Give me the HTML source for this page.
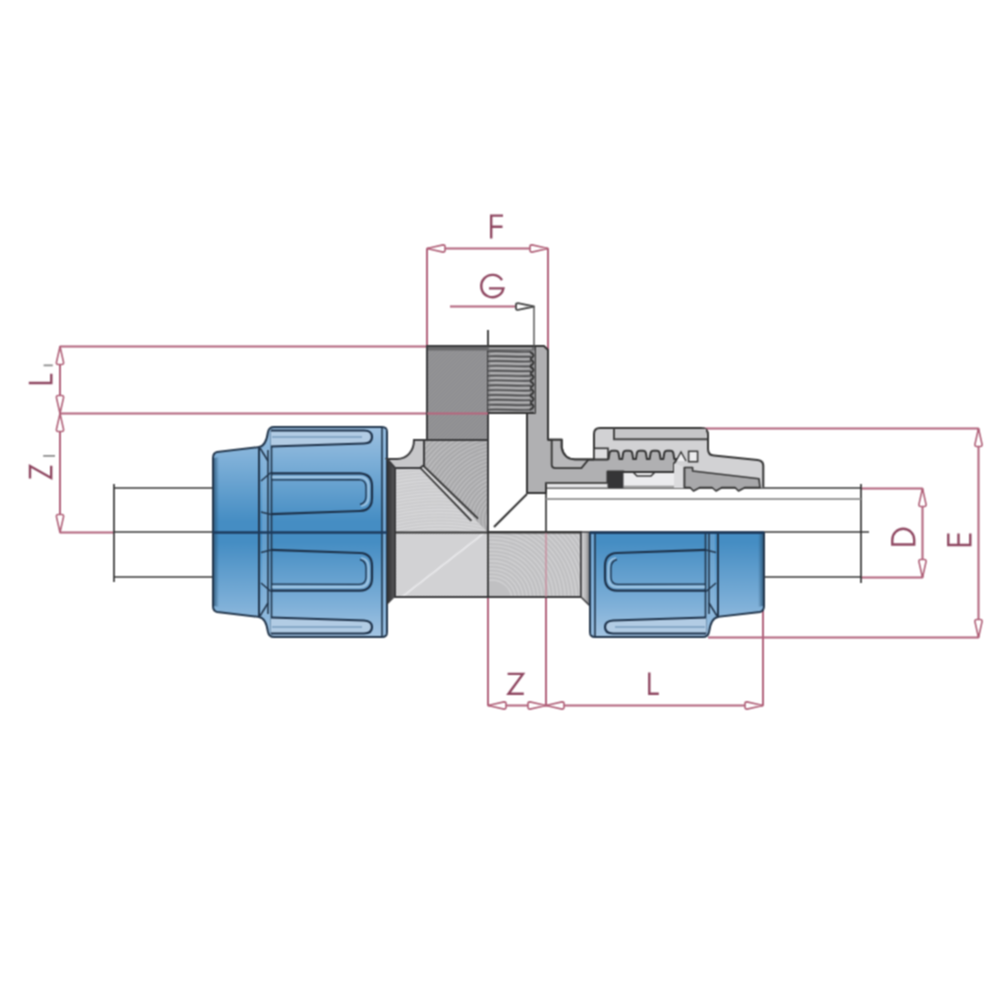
<!DOCTYPE html>
<html><head><meta charset="utf-8">
<style>
html,body{margin:0;padding:0;background:#fff;}
svg{display:block;}
text{font-family:"Liberation Sans",sans-serif;fill:#a83654;}
</style></head><body>
<svg width="1000" height="1000" viewBox="0 0 1000 1000">
<defs>
  <linearGradient id="blueV" gradientUnits="userSpaceOnUse" x1="0" y1="427" x2="0" y2="637">
    <stop offset="0" stop-color="#9dc0e0"/>
    <stop offset="0.15" stop-color="#7fb0d8"/>
    <stop offset="0.45" stop-color="#458dc3"/>
    <stop offset="0.55" stop-color="#458dc3"/>
    <stop offset="0.85" stop-color="#7fb0d8"/>
    <stop offset="1" stop-color="#a3c4e2"/>
  </linearGradient>
  <linearGradient id="capEdge" x1="0" y1="0" x2="1" y2="0">
    <stop offset="0" stop-color="#2c5678" stop-opacity="0.8"/>
    <stop offset="1" stop-color="#2c5678" stop-opacity="0"/>
  </linearGradient>
  <linearGradient id="blueH" gradientUnits="userSpaceOnUse" x1="0" y1="532" x2="0" y2="637">
    <stop offset="0" stop-color="#3f85c2"/>
    <stop offset="0.6" stop-color="#6ea6d4"/>
    <stop offset="1" stop-color="#a6c6e2"/>
  </linearGradient>
  <linearGradient id="ribL" x1="0" y1="0" x2="0" y2="1">
    <stop offset="0" stop-color="#bcd5ea"/>
    <stop offset="1" stop-color="#8fb8dc"/>
  </linearGradient>
  <linearGradient id="bodyG" gradientUnits="userSpaceOnUse" x1="395" y1="597" x2="580" y2="460">
    <stop offset="0" stop-color="#b8b8ba"/>
    <stop offset="0.4" stop-color="#d2d2d4"/>
    <stop offset="0.6" stop-color="#c4c4c6"/>
    <stop offset="1" stop-color="#b0b0b2"/>
  </linearGradient>
  <linearGradient id="darkStrip" x1="0" y1="0" x2="1" y2="0">
    <stop offset="0" stop-color="#2e2e30"/>
    <stop offset="1" stop-color="#5a5a5c"/>
  </linearGradient>
  <linearGradient id="darkStripR" x1="0" y1="0" x2="1" y2="0">
    <stop offset="0" stop-color="#dadadc"/>
    <stop offset="0.6" stop-color="#b0b0b2"/>
    <stop offset="1" stop-color="#6a6a6c"/>
  </linearGradient>
  <pattern id="streak" patternUnits="userSpaceOnUse" width="6" height="4">
    <rect width="6" height="4" fill="none"/>
    <line x1="0" y1="1" x2="6" y2="1" stroke="#ffffff" stroke-opacity="0.25" stroke-width="1"/>
  </pattern>
</defs>
<filter id="soft" x="0" y="0" width="1000" height="1000" filterUnits="userSpaceOnUse" color-interpolation-filters="sRGB"><feConvolveMatrix order="3" kernelMatrix="1 2 1 2 4 2 1 2 1" divisor="16" edgeMode="duplicate"/></filter>
<g filter="url(#soft)">
<rect width="1000" height="1000" fill="#fff"/>

<!-- ============ DIMENSION LINES ============ -->
<g stroke="#b0607a" stroke-width="2" fill="none">
  <path d="M60,346.5 H427 M60,413.5 H488 M60,532.5 H114 M60,346 V532.5"/>
  <path d="M427,248.5 V346 M548,248.5 V350 M427,248.5 H548"/>
  <path d="M450,306.5 H516"/>
  <path d="M703,428.5 H978.5 M708,637.5 H978.5 M978.5,428.5 V637.5"/>
  <path d="M861,488.5 H922.5 M861,577.5 H922.5 M922.5,488.5 V577.5"/>
  <path d="M488,705.5 H763 M488,597 V705.5 M546,597 V705.5 M763,609 V705.5"/>
</g>
<g stroke="#b06078" stroke-width="1.6" fill="#fff" stroke-linejoin="round">
  <path id="aUp" d="M0,0 L-3.6,16 Q-3.6,18 -2,18 L2,18 Q3.6,18 3.6,16 Z" transform="translate(60,346.5)"/>
  <path d="M0,0 L-3.6,16 Q-3.6,18 -2,18 L2,18 Q3.6,18 3.6,16 Z" transform="translate(60,413.5) rotate(180)"/>
  <path d="M0,0 L-3.6,16 Q-3.6,18 -2,18 L2,18 Q3.6,18 3.6,16 Z" transform="translate(60,413.5)"/>
  <path d="M0,0 L-3.6,16 Q-3.6,18 -2,18 L2,18 Q3.6,18 3.6,16 Z" transform="translate(60,532.5) rotate(180)"/>
  <path d="M0,0 L-3.6,16 Q-3.6,18 -2,18 L2,18 Q3.6,18 3.6,16 Z" transform="translate(427,248.5) rotate(-90)"/>
  <path d="M0,0 L-3.6,16 Q-3.6,18 -2,18 L2,18 Q3.6,18 3.6,16 Z" transform="translate(548,248.5) rotate(90)"/>
  <path d="M0,0 L-3.6,16 Q-3.6,18 -2,18 L2,18 Q3.6,18 3.6,16 Z" transform="translate(978.5,428.5)"/>
  <path d="M0,0 L-3.6,16 Q-3.6,18 -2,18 L2,18 Q3.6,18 3.6,16 Z" transform="translate(978.5,637.5) rotate(180)"/>
  <path d="M0,0 L-3.6,16 Q-3.6,18 -2,18 L2,18 Q3.6,18 3.6,16 Z" transform="translate(922.5,488.5)"/>
  <path d="M0,0 L-3.6,16 Q-3.6,18 -2,18 L2,18 Q3.6,18 3.6,16 Z" transform="translate(922.5,577.5) rotate(180)"/>
  <path d="M0,0 L-3.6,16 Q-3.6,18 -2,18 L2,18 Q3.6,18 3.6,16 Z" transform="translate(488,705.5) rotate(-90)"/>
  <path d="M0,0 L-3.6,16 Q-3.6,18 -2,18 L2,18 Q3.6,18 3.6,16 Z" transform="translate(546,705.5) rotate(90)"/>
  <path d="M0,0 L-3.6,16 Q-3.6,18 -2,18 L2,18 Q3.6,18 3.6,16 Z" transform="translate(546,705.5) rotate(-90)"/>
  <path d="M0,0 L-3.6,16 Q-3.6,18 -2,18 L2,18 Q3.6,18 3.6,16 Z" transform="translate(763,705.5) rotate(90)"/>
</g>
<path d="M0,0 L-3.4,16 Q-3.4,18 -2,18 L2,18 Q3.4,18 3.4,16 Z" transform="translate(534,306.5) rotate(90)" fill="#fff" stroke="#444" stroke-width="1.8" stroke-linejoin="round"/>

<!-- ============ TEXT ============ -->
<g stroke="#8e4660" stroke-width="2.4" fill="none" stroke-linecap="butt" stroke-linejoin="miter">
  <!-- F -->
  <path d="M491.2,238.6 V215.6 H503 M491.2,226.8 H502.5"/>
  <!-- G -->
  <path d="M502,280.2 A11.2,11.2 0 1 0 503.4,288.4 H489"/>
  <!-- L bottom -->
  <path d="M649.3,672.6 V693.8 H658.8"/>
  <!-- Z bottom -->
  <path d="M507.6,673.9 H523 L508.5,693.8 H523.8"/>
  <!-- L1 -->
  <path d="M28.8,383 H51.3 V373.8"/>
  <!-- Z1 -->
  <path d="M30,478.6 V466 L51.2,478 V465.8"/>
  <!-- D -->
  <path d="M892.3,544.5 H914.2 V539.75 A10.95,10.95 0 0 0 892.3,539.75 Z"/>
  <!-- E -->
  <path d="M948.3,533.5 V545 H970.3 V533.5 M958.5,533.5 V545"/>
</g>
<g stroke="#8a8a8a" stroke-width="1.8" fill="none">
  <path d="M43.6,365.4 H52.8 M43.2,455.8 H55"/>
</g>

<!-- ============ PIPE ============ -->
<g stroke="#333" stroke-width="1.7" fill="none">
  <line x1="114" y1="484" x2="114" y2="582"/>
  <line x1="114" y1="488" x2="212" y2="488"/>
  <line x1="114" y1="577" x2="212" y2="577"/>
  <line x1="114" y1="532" x2="212" y2="532"/>
  <line x1="546" y1="488" x2="861" y2="488"/>
  <line x1="763" y1="577" x2="861" y2="577"/>
  <line x1="590" y1="532" x2="869" y2="532"/>
  <line x1="861" y1="484" x2="861" y2="583"/>
  <line x1="546" y1="483" x2="546" y2="532"/>
</g>
<line x1="546" y1="499" x2="861" y2="499" stroke="#999" stroke-width="2"/>

<!-- ============ LEFT BLUE NUT ============ -->
<g id="nutL">
<g stroke="#22364c" stroke-width="2">
  <path d="M217,452 L260,447 L260,617 L217,612 Q213,611 213,606 L213,458 Q213,453 217,452 Z" fill="url(#blueV)"/>
  <path d="M259,447 Q266,446 268,432 Q269,427 274,427 L382,427 Q387,427 387,432 L387,632 Q387,637 382,637 L274,637 Q269,637 268,632 Q266,618 259,617 Z" fill="url(#blueV)"/>
</g>
<rect x="383" y="429" width="3" height="206" fill="#8fb8dc" opacity="0.6"/>
<path d="M214,458 L219,457 L219,607 L214,606 Z" fill="url(#capEdge)"/>
<rect x="262" y="449" width="8" height="166" fill="#9cc0e0" opacity="0.35"/>
<g stroke="#22364c" fill="none" stroke-width="1.6">
  <line x1="382" y1="428" x2="382" y2="636"/>
  <line x1="271.5" y1="430" x2="271.5" y2="634"/>
    <line x1="260" y1="448" x2="268" y2="461"/>
  <line x1="260" y1="616" x2="268" y2="603"/>
  <line x1="268" y1="450" x2="268" y2="614"/>
  <path d="M271,472.5 L261,481 M261,512 L271,514.5 M271,550 L261,552.5 M261,583 L271,591.5"/>
</g>
<!-- rib A -->
<path d="M271,431 L364,431 Q372,431 372,437 Q372,443.5 364,443.5 L271,446.5 Z" fill="#b2cce4"/>
<path d="M272,437 L362,437" stroke="#5a84aa" stroke-width="1.2" fill="none"/>
<path d="M271,430.5 L364,430.5 Q372,430.5 372,437 Q372,443.5 364,443.5 L271,446.5" stroke="#1c3048" stroke-width="2.2" fill="none"/>
<!-- rib B -->
<path d="M272,477.2 L360,477 Q368.5,477.5 368.5,486 L368.5,497 Q368.5,505 361,506" stroke="#c2d8ec" stroke-width="2.2" fill="none" opacity="0.6"/>
<path d="M272,479.8 L359,479.6 Q366,480 366,487 L366,496 Q366,503 360,504.5" stroke="#1c3048" stroke-width="1.3" fill="none"/>
<path d="M271,473.3 L360,473.3 Q372,474 372,486 L372,498 Q372,510.5 360,511 L271,514.2" stroke="#1c3048" stroke-width="2.2" fill="none"/>
<!-- rib C -->
<path d="M272,586.8 L360,587 Q368.5,586.5 368.5,578 L368.5,567 Q368.5,559 361,558" stroke="#c2d8ec" stroke-width="2.2" fill="none" opacity="0.6"/>
<path d="M272,584.2 L359,584.4 Q366,584 366,577 L366,568 Q366,561 360,559.5" stroke="#1c3048" stroke-width="1.3" fill="none"/>
<path d="M271,549.8 L360,553 Q372,553.5 372,566 L372,578 Q372,590 360,590.7 L271,590.7" stroke="#1c3048" stroke-width="2.2" fill="none"/>
<!-- rib D -->
<path d="M271,617.5 L364,620.5 Q372,621 372,627 Q372,633.5 364,633.5 L271,633.5 Z" fill="#b2cce4"/>
<path d="M272,627 L362,627" stroke="#5a84aa" stroke-width="1.2" fill="none"/>
<path d="M271,617.5 L364,620.5 Q372,621 372,627 Q372,633.5 364,633.5 L271,633.5" stroke="#1c3048" stroke-width="2.2" fill="none"/>
<line x1="213" y1="532.5" x2="387" y2="532.5" stroke="#1c3a5c" stroke-width="2.5"/>
</g>

<!-- ============ BODY (exterior) ============ -->
<clipPath id="cUT"><path d="M424,440 L488,440 L488,532 L487,532 L421.5,466.4 L424,465 Z"/></clipPath>
<clipPath id="cLT"><path d="M395,468 L420,468 L421.5,466.4 L487,532 L395,532 Z"/></clipPath>
<clipPath id="cLL"><rect x="395" y="532" width="93" height="65"/></clipPath>
<clipPath id="cLR"><rect x="488" y="532" width="93" height="65"/></clipPath>
<!-- left dark strip -->
<path d="M387,459 L395,468 L395,597 L387,605 Z" fill="url(#darkStrip)"/>
<!-- base fills -->
<path d="M424,440 L488,440 L488,532 L487,532 L421.5,466.4 L424,465 Z" fill="#a9a9ab"/>
<path d="M395,468 L420,468 L421.5,466.4 L487,532 L395,532 Z" fill="#cbcbcd"/>
<rect x="395" y="532" width="93" height="65" fill="#d6d6d8"/>
<rect x="488" y="532" width="93" height="65" fill="#c0c0c2"/>
<g clip-path="url(#cUT)"><g fill="none" stroke="#cdcdcf" stroke-opacity="0.6" stroke-width="1.2"><circle cx="505" cy="520" r="8.0"/><circle cx="505" cy="520" r="11.6"/><circle cx="505" cy="520" r="15.2"/><circle cx="505" cy="520" r="18.8"/><circle cx="505" cy="520" r="22.4"/><circle cx="505" cy="520" r="26.0"/><circle cx="505" cy="520" r="29.6"/><circle cx="505" cy="520" r="33.2"/><circle cx="505" cy="520" r="36.8"/><circle cx="505" cy="520" r="40.4"/><circle cx="505" cy="520" r="44.0"/><circle cx="505" cy="520" r="47.6"/><circle cx="505" cy="520" r="51.2"/><circle cx="505" cy="520" r="54.8"/><circle cx="505" cy="520" r="58.4"/><circle cx="505" cy="520" r="62.0"/><circle cx="505" cy="520" r="65.6"/><circle cx="505" cy="520" r="69.2"/><circle cx="505" cy="520" r="72.8"/><circle cx="505" cy="520" r="76.4"/><circle cx="505" cy="520" r="80.0"/><circle cx="505" cy="520" r="83.6"/><circle cx="505" cy="520" r="87.2"/><circle cx="505" cy="520" r="90.8"/><circle cx="505" cy="520" r="94.4"/><circle cx="505" cy="520" r="98.0"/><circle cx="505" cy="520" r="101.6"/><circle cx="505" cy="520" r="105.2"/><circle cx="505" cy="520" r="108.8"/><circle cx="505" cy="520" r="112.4"/><circle cx="505" cy="520" r="116.0"/><circle cx="505" cy="520" r="119.6"/></g></g>
<g clip-path="url(#cLT)"><g fill="none" stroke="#e2e2e4" stroke-opacity="0.6" stroke-width="1.1"><circle cx="440" cy="720" r="185.0"/><circle cx="440" cy="720" r="188.2"/><circle cx="440" cy="720" r="191.4"/><circle cx="440" cy="720" r="194.6"/><circle cx="440" cy="720" r="197.8"/><circle cx="440" cy="720" r="201.0"/><circle cx="440" cy="720" r="204.2"/><circle cx="440" cy="720" r="207.4"/><circle cx="440" cy="720" r="210.6"/><circle cx="440" cy="720" r="213.8"/><circle cx="440" cy="720" r="217.0"/><circle cx="440" cy="720" r="220.2"/><circle cx="440" cy="720" r="223.4"/><circle cx="440" cy="720" r="226.6"/><circle cx="440" cy="720" r="229.8"/><circle cx="440" cy="720" r="233.0"/><circle cx="440" cy="720" r="236.2"/><circle cx="440" cy="720" r="239.4"/><circle cx="440" cy="720" r="242.6"/><circle cx="440" cy="720" r="245.8"/><circle cx="440" cy="720" r="249.0"/><circle cx="440" cy="720" r="252.2"/><circle cx="440" cy="720" r="255.4"/><circle cx="440" cy="720" r="258.6"/><circle cx="440" cy="720" r="261.8"/><circle cx="440" cy="720" r="265.0"/></g></g>
<g clip-path="url(#cLL)"><g stroke="#bdbdbf" stroke-opacity="0.45" stroke-width="1.0"><line x1="320.0" y1="597" x2="385.0" y2="532"/><line x1="323.0" y1="597" x2="388.0" y2="532"/><line x1="326.0" y1="597" x2="391.0" y2="532"/><line x1="329.0" y1="597" x2="394.0" y2="532"/><line x1="332.0" y1="597" x2="397.0" y2="532"/><line x1="335.0" y1="597" x2="400.0" y2="532"/><line x1="338.0" y1="597" x2="403.0" y2="532"/><line x1="341.0" y1="597" x2="406.0" y2="532"/><line x1="344.0" y1="597" x2="409.0" y2="532"/><line x1="347.0" y1="597" x2="412.0" y2="532"/><line x1="350.0" y1="597" x2="415.0" y2="532"/><line x1="353.0" y1="597" x2="418.0" y2="532"/><line x1="356.0" y1="597" x2="421.0" y2="532"/><line x1="359.0" y1="597" x2="424.0" y2="532"/><line x1="362.0" y1="597" x2="427.0" y2="532"/><line x1="365.0" y1="597" x2="430.0" y2="532"/><line x1="368.0" y1="597" x2="433.0" y2="532"/><line x1="371.0" y1="597" x2="436.0" y2="532"/><line x1="374.0" y1="597" x2="439.0" y2="532"/><line x1="377.0" y1="597" x2="442.0" y2="532"/><line x1="380.0" y1="597" x2="445.0" y2="532"/><line x1="383.0" y1="597" x2="448.0" y2="532"/><line x1="386.0" y1="597" x2="451.0" y2="532"/><line x1="389.0" y1="597" x2="454.0" y2="532"/><line x1="392.0" y1="597" x2="457.0" y2="532"/><line x1="395.0" y1="597" x2="460.0" y2="532"/><line x1="398.0" y1="597" x2="463.0" y2="532"/><line x1="401.0" y1="597" x2="466.0" y2="532"/><line x1="404.0" y1="597" x2="469.0" y2="532"/><line x1="407.0" y1="597" x2="472.0" y2="532"/><line x1="410.0" y1="597" x2="475.0" y2="532"/><line x1="413.0" y1="597" x2="478.0" y2="532"/><line x1="416.0" y1="597" x2="481.0" y2="532"/><line x1="419.0" y1="597" x2="484.0" y2="532"/><line x1="422.0" y1="597" x2="487.0" y2="532"/><line x1="425.0" y1="597" x2="490.0" y2="532"/><line x1="428.0" y1="597" x2="493.0" y2="532"/><line x1="431.0" y1="597" x2="496.0" y2="532"/><line x1="434.0" y1="597" x2="499.0" y2="532"/><line x1="437.0" y1="597" x2="502.0" y2="532"/><line x1="440.0" y1="597" x2="505.0" y2="532"/><line x1="443.0" y1="597" x2="508.0" y2="532"/><line x1="446.0" y1="597" x2="511.0" y2="532"/><line x1="449.0" y1="597" x2="514.0" y2="532"/><line x1="452.0" y1="597" x2="517.0" y2="532"/><line x1="455.0" y1="597" x2="520.0" y2="532"/><line x1="458.0" y1="597" x2="523.0" y2="532"/><line x1="461.0" y1="597" x2="526.0" y2="532"/><line x1="464.0" y1="597" x2="529.0" y2="532"/><line x1="467.0" y1="597" x2="532.0" y2="532"/><line x1="470.0" y1="597" x2="535.0" y2="532"/><line x1="473.0" y1="597" x2="538.0" y2="532"/><line x1="476.0" y1="597" x2="541.0" y2="532"/><line x1="479.0" y1="597" x2="544.0" y2="532"/><line x1="482.0" y1="597" x2="547.0" y2="532"/><line x1="485.0" y1="597" x2="550.0" y2="532"/><line x1="488.0" y1="597" x2="553.0" y2="532"/><line x1="491.0" y1="597" x2="556.0" y2="532"/><line x1="494.0" y1="597" x2="559.0" y2="532"/><line x1="497.0" y1="597" x2="562.0" y2="532"/></g>
  <line x1="398" y1="600" x2="488" y2="530" stroke="#f4f4f6" stroke-width="2" stroke-opacity="0.6"/>
</g>
<g clip-path="url(#cLR)"><g fill="none" stroke="#e0e0e2" stroke-opacity="0.55" stroke-width="1.3"><circle cx="492" cy="600" r="20.0"/><circle cx="492" cy="600" r="23.8"/><circle cx="492" cy="600" r="27.6"/><circle cx="492" cy="600" r="31.4"/><circle cx="492" cy="600" r="35.2"/><circle cx="492" cy="600" r="39.0"/><circle cx="492" cy="600" r="42.8"/><circle cx="492" cy="600" r="46.6"/><circle cx="492" cy="600" r="50.4"/><circle cx="492" cy="600" r="54.2"/><circle cx="492" cy="600" r="58.0"/><circle cx="492" cy="600" r="61.8"/><circle cx="492" cy="600" r="65.6"/><circle cx="492" cy="600" r="69.4"/><circle cx="492" cy="600" r="73.2"/><circle cx="492" cy="600" r="77.0"/><circle cx="492" cy="600" r="80.8"/><circle cx="492" cy="600" r="84.6"/><circle cx="492" cy="600" r="88.4"/><circle cx="492" cy="600" r="92.2"/><circle cx="492" cy="600" r="96.0"/><circle cx="492" cy="600" r="99.8"/><circle cx="492" cy="600" r="103.6"/><circle cx="492" cy="600" r="107.4"/></g></g>
<!-- outline -->
<path d="M395,468 L420,468 L424,465 L424,440 L488,440 L488,532 L581,532 L581,597 L395,597 Z" fill="none" stroke="#3a3a3c" stroke-width="2"/>
<!-- fillet -->
<path d="M387,459 L397,459 C407,459 414,451 414,440 L424,440 L424,465 L420,468 L395,468 Z" fill="#c8c8ca" stroke="#3a3a3c" stroke-width="2"/>
<!-- diagonal double line -->
<path d="M420,467.5 L471.4,520.8" stroke="#333" stroke-width="1.8"/>
<path d="M423,465.3 L478,518.6" stroke="#333" stroke-width="1.8"/>
<path d="M422.5,467.5 L474.5,519.7" stroke="#dcdcde" stroke-width="1.6"/>
<g stroke="#333" stroke-width="1.8" fill="none">
  <line x1="488" y1="532" x2="488" y2="597"/>
  <line x1="395" y1="532.5" x2="581" y2="532.5"/>
</g>
<!-- branch exterior -->
<rect x="427" y="346" width="61" height="94" fill="#8e8e90"/>
<clipPath id="cBr"><rect x="427" y="346" width="61" height="94"/></clipPath>
<g clip-path="url(#cBr)"><g stroke="#b0b0b2" stroke-opacity="0.35" stroke-width="1.0"><line x1="323.0" y1="440" x2="417.0" y2="346"/><line x1="326.5" y1="440" x2="420.5" y2="346"/><line x1="330.0" y1="440" x2="424.0" y2="346"/><line x1="333.5" y1="440" x2="427.5" y2="346"/><line x1="337.0" y1="440" x2="431.0" y2="346"/><line x1="340.5" y1="440" x2="434.5" y2="346"/><line x1="344.0" y1="440" x2="438.0" y2="346"/><line x1="347.5" y1="440" x2="441.5" y2="346"/><line x1="351.0" y1="440" x2="445.0" y2="346"/><line x1="354.5" y1="440" x2="448.5" y2="346"/><line x1="358.0" y1="440" x2="452.0" y2="346"/><line x1="361.5" y1="440" x2="455.5" y2="346"/><line x1="365.0" y1="440" x2="459.0" y2="346"/><line x1="368.5" y1="440" x2="462.5" y2="346"/><line x1="372.0" y1="440" x2="466.0" y2="346"/><line x1="375.5" y1="440" x2="469.5" y2="346"/><line x1="379.0" y1="440" x2="473.0" y2="346"/><line x1="382.5" y1="440" x2="476.5" y2="346"/><line x1="386.0" y1="440" x2="480.0" y2="346"/><line x1="389.5" y1="440" x2="483.5" y2="346"/><line x1="393.0" y1="440" x2="487.0" y2="346"/><line x1="396.5" y1="440" x2="490.5" y2="346"/><line x1="400.0" y1="440" x2="494.0" y2="346"/><line x1="403.5" y1="440" x2="497.5" y2="346"/><line x1="407.0" y1="440" x2="501.0" y2="346"/><line x1="410.5" y1="440" x2="504.5" y2="346"/><line x1="414.0" y1="440" x2="508.0" y2="346"/><line x1="417.5" y1="440" x2="511.5" y2="346"/><line x1="421.0" y1="440" x2="515.0" y2="346"/><line x1="424.5" y1="440" x2="518.5" y2="346"/><line x1="428.0" y1="440" x2="522.0" y2="346"/><line x1="431.5" y1="440" x2="525.5" y2="346"/><line x1="435.0" y1="440" x2="529.0" y2="346"/><line x1="438.5" y1="440" x2="532.5" y2="346"/><line x1="442.0" y1="440" x2="536.0" y2="346"/><line x1="445.5" y1="440" x2="539.5" y2="346"/><line x1="449.0" y1="440" x2="543.0" y2="346"/><line x1="452.5" y1="440" x2="546.5" y2="346"/><line x1="456.0" y1="440" x2="550.0" y2="346"/><line x1="459.5" y1="440" x2="553.5" y2="346"/><line x1="463.0" y1="440" x2="557.0" y2="346"/><line x1="466.5" y1="440" x2="560.5" y2="346"/><line x1="470.0" y1="440" x2="564.0" y2="346"/><line x1="473.5" y1="440" x2="567.5" y2="346"/><line x1="477.0" y1="440" x2="571.0" y2="346"/><line x1="480.5" y1="440" x2="574.5" y2="346"/><line x1="484.0" y1="440" x2="578.0" y2="346"/><line x1="487.5" y1="440" x2="581.5" y2="346"/><line x1="491.0" y1="440" x2="585.0" y2="346"/><line x1="494.5" y1="440" x2="588.5" y2="346"/></g></g>
<rect x="427" y="346" width="61" height="94" fill="none" stroke="#3a3a3c" stroke-width="2"/>
<rect x="428" y="347" width="60" height="3.5" fill="#6a6a6c"/>
<!-- right dark strip -->
<path d="M581,532 L590,532 L590,606 L581,597 Z" fill="url(#darkStripR)" stroke="#3a3a3c" stroke-width="1.5"/>
<!-- pink lines over body -->
<path d="M546,533 V597" stroke="#c87a90" stroke-width="2" stroke-opacity="0.55"/>
<path d="M427,413.5 H488" stroke="#b8647c" stroke-width="2"/>

<!-- ============ CROSS SECTION ============ -->
<path d="M594,434 Q594,428 600,428 L701,428 Q708,428 708,435 L708,449 Q708,455.4 714,455.4 L757.5,459.9 Q763.3,460.5 763.3,466 L763.3,487.5 L760,487.5 L759,478.8 L692.6,471 L692.6,467.5 L684,467.5 L674,463.5 L674,460 L594,460 Z" fill="#d2d2d4" stroke="none"/>
<!-- body section -->
<path d="M535,346 L544,346 L548,350 L548,439.8 L561.6,439.8 L561.6,447.4 C563,455 568,459.4 575,459.4 L607.5,459.4 L608.5,459 L609.5,453 Q610.0,450.8 612.5,450.8 L615.5,450.8 Q618.0,450.8 618.5,453 L619.5,459 L622.2,459 L622.2,459 L623.2,453 Q623.7,450.8 626.2,450.8 L629.2,450.8 Q631.7,450.8 632.2,453 L633.2,459 L635.9,459 L635.9,459 L636.9,453 Q637.4,450.8 639.9,450.8 L642.9,450.8 Q645.4,450.8 645.9,453 L646.9,459 L649.6,459 L649.6,459 L650.6,453 Q651.1,450.8 653.6,450.8 L656.6,450.8 Q659.1,450.8 659.6,453 L660.6,459 L663.3,459 L663.3,459 L664.3,453 Q664.8,450.8 667.3,450.8 L670.3,450.8 Q672.8,450.8 673.3,453 L674.3,459 L677.0,459 L674,463.5 L674,472 L623.5,472 L623.5,471.5 L607.5,471.5 L607.5,483 L546,483 L546,493 L527,493 L527,413 L535,413 Z" fill="#b0b0b2" stroke="#333" stroke-width="2" stroke-linejoin="round"/>
<!-- inner fillet outline -->
<path d="M551.7,439.8 L561.6,439.8 L561.6,447.4 C563,455 568,459.4 575,459.4 L588.6,459.4 L581.4,468.1 L555.6,468.1 Q551.7,468.1 551.7,464.8 Z" fill="#b8b8ba"/>
<path d="M551.7,440 L551.7,464.8 Q551.7,468.1 555.6,468.1 L581.4,468.1 L588.6,459.4" fill="none" stroke="#333" stroke-width="1.8"/>
<path d="M548,439.8 L561.6,439.8 L561.6,447.4 C563,455 568,459.4 575,459.4 L594,459.4" fill="none" stroke="#333" stroke-width="2"/>
<!-- white gap strip and o-ring area -->
<rect x="547" y="483.5" width="61" height="4" fill="#e6e6e8"/>
<line x1="546" y1="483.2" x2="607.5" y2="483.2" stroke="#555" stroke-width="1.4"/>
<rect x="623.5" y="473" width="60" height="14.5" fill="#ececee"/>
<line x1="623.5" y1="486.5" x2="684" y2="486.5" stroke="#999" stroke-width="1.5"/>
<path d="M633,472 L637,476 L651,476 L655,472" fill="#f0f0f2" stroke="#333" stroke-width="1.6"/>
<line x1="608" y1="472" x2="674" y2="472" stroke="#333" stroke-width="1.8"/>
<!-- diagonal line in section -->
<line x1="527" y1="494" x2="494" y2="527" stroke="#333" stroke-width="2"/>
<!-- thread -->
<rect x="488" y="346" width="47" height="67" fill="#8e8e90"/>
<rect x="488" y="346" width="47" height="4.5" fill="#6e6e70"/>
<line x1="489" y1="348.3" x2="532" y2="348.3" stroke="#c8c8ca" stroke-width="1"/>
<path d="M490,353.7 C502,353.1 516,354.5 530,353.9 M490,358.6 C502,358.0 516,359.4 530,358.8 M490,363.4 C502,362.8 516,364.2 530,363.6 M490,368.3 C502,367.7 516,369.1 530,368.5 M490,373.1 C502,372.5 516,373.9 530,373.3 M490,378.0 C502,377.4 516,378.8 530,378.2 M490,382.8 C502,382.2 516,383.6 530,383.0 M490,387.7 C502,387.1 516,388.5 530,387.9 M490,392.5 C502,391.9 516,393.3 530,392.7 M490,397.4 C502,396.8 516,398.2 530,397.6 M490,402.2 C502,401.6 516,403.0 530,402.4 M490,407.1 C502,406.5 516,407.9 530,407.3 M490,411.9 C502,411.3 516,412.7 530,412.1" stroke="#b6b6b8" stroke-width="1.6" fill="none"/>
<path d="M488,351.5 C500,350.7 515,352.3 531,351.8 M488,356.4 C500,355.6 515,357.2 531,356.7 M488,361.2 C500,360.4 515,362.0 531,361.5 M488,366.1 C500,365.3 515,366.9 531,366.4 M488,370.9 C500,370.1 515,371.7 531,371.2 M488,375.8 C500,375.0 515,376.6 531,376.1 M488,380.6 C500,379.8 515,381.4 531,380.9 M488,385.5 C500,384.7 515,386.3 531,385.8 M488,390.3 C500,389.5 515,391.1 531,390.6 M488,395.2 C500,394.4 515,396.0 531,395.5 M488,400.0 C500,399.2 515,400.8 531,400.3 M488,404.9 C500,404.1 515,405.7 531,405.2 M488,409.7 C500,408.9 515,410.5 531,410.0" stroke="#4a4a4c" stroke-width="1.4" fill="none"/>
<path d="M530,352.0 Q537,355.5 530,358.5 M530,359.3 Q537,362.8 530,365.8 M530,366.6 Q537,370.1 530,373.1 M530,373.9 Q537,377.4 530,380.4 M530,381.2 Q537,384.7 530,387.7 M530,388.5 Q537,392.0 530,395.0 M530,395.8 Q537,399.3 530,402.3 M530,403.1 Q537,406.6 530,409.6" stroke="#333" stroke-width="1.8" fill="none"/>
<line x1="488" y1="413" x2="534" y2="413" stroke="#333" stroke-width="1.8"/>
<line x1="488" y1="346" x2="544" y2="346" stroke="#333" stroke-width="1.8"/>
<line x1="488" y1="330" x2="488" y2="346" stroke="#444" stroke-width="2"/>
<line x1="534" y1="306" x2="534" y2="346" stroke="#555" stroke-width="1.5"/>

<!-- nut section -->
<path d="M594,459.4 L594,434 Q594,428 600,428 L701,428 Q708,428 708,435 L708,449 Q708,455.4 714,455.4 L757.5,459.9 Q763.3,460.5 763.3,466 L763.3,487.5" fill="none" stroke="#333" stroke-width="2"/>
<rect x="615" y="429" width="91" height="9.5" fill="#c6c6c8"/>
<path d="M614,428 L614,439.2 L707,439.2" fill="none" stroke="#444" stroke-width="2"/>
<rect x="594" y="448.3" width="14" height="11" fill="#dedee0" stroke="#333" stroke-width="1.6"/>
<path d="M676,461 L681,452 L686,461" fill="#f0f0f2" stroke="#333" stroke-width="1.4"/>
<rect x="688.6" y="451.3" width="9" height="10.4" fill="#ececee" stroke="#333" stroke-width="1.5"/>
<path d="M674,463.5 L684.5,467.5 L684.5,488 L674,488 Z" fill="#dcdcde"/>
<line x1="684.5" y1="467" x2="684.5" y2="488" stroke="#333" stroke-width="1.6"/>
<!-- grip ring -->
<path d="M684.5,467.5 L692.6,467.5 L692.6,471 L759,478.8 L760,487.5 L745,487.5 L738.5,491 L735,487.5 L722,487.5 L716,491 L712,487.5 L700,487.5 L693.5,491 L690,487.5 L684.5,487.5 Z" fill="#a8a8aa" stroke="#333" stroke-width="1.6" stroke-linejoin="round"/>
<!-- o-ring -->
<rect x="607.5" y="471.5" width="16" height="16.5" rx="1.5" fill="#353537"/>

<!-- ============ RIGHT BLUE NUT ============ -->
<clipPath id="lowHalf"><rect x="-3000" y="532" width="6000" height="200"/></clipPath>
<g clip-path="url(#lowHalf)"><use href="#nutL" transform="translate(977,0) scale(-1,1)"/></g>
<line x1="590" y1="532.5" x2="764" y2="532.5" stroke="#1c3a5c" stroke-width="2.5"/>

</g>
</svg>
</body></html>
